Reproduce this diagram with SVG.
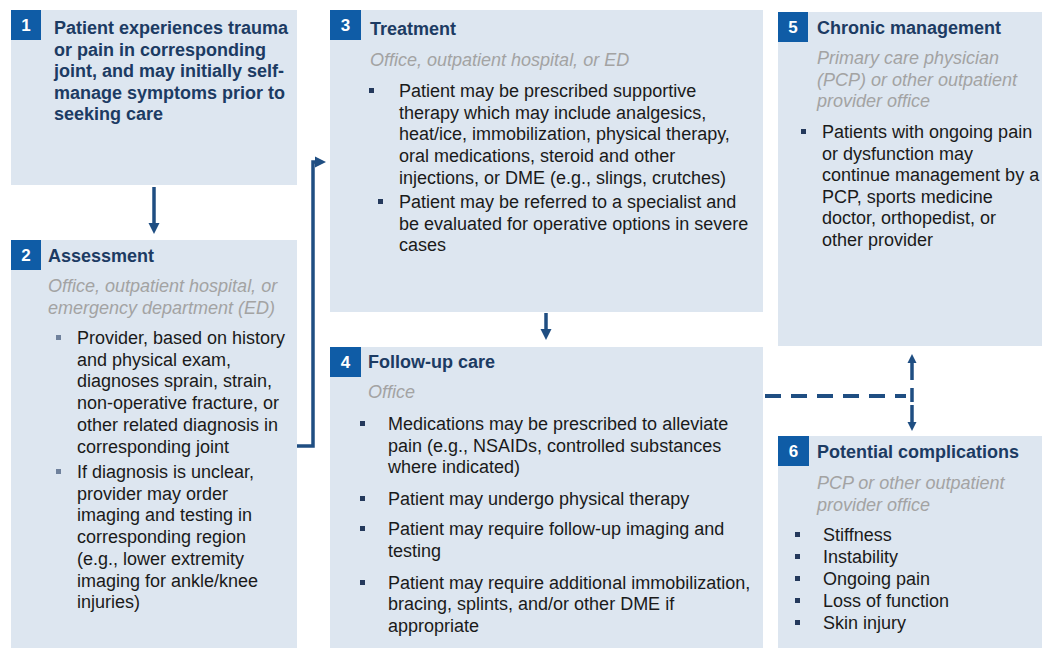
<svg xmlns="http://www.w3.org/2000/svg" width="1042" height="648" viewBox="0 0 1042 648">
<style>
.box{fill:#dde6f0}
.badge{fill:#0f5ca6}
.num{font-family:"Liberation Sans",Arial,sans-serif;font-weight:bold;font-size:17px;fill:#ffffff;text-anchor:middle}
.head{font-family:"Liberation Sans",Arial,sans-serif;font-weight:bold;font-size:18px;fill:#1c3b63}
.sub{font-family:"Liberation Sans",Arial,sans-serif;font-style:italic;font-size:18px;fill:#a3a3a3}
.body{font-family:"Liberation Sans",Arial,sans-serif;font-size:18px;fill:#1a1a1a}
.blt{fill:#24395c}
.blt2{fill:#6f819c}
.conn{fill:none;stroke:#1f4e82;stroke-width:3.5}
.dash{fill:none;stroke:#1f4e82;stroke-width:4;stroke-dasharray:16 10}
</style>
<defs>
<marker id="ah" markerWidth="14" markerHeight="14" refX="4" refY="6" orient="auto" markerUnits="userSpaceOnUse">
<path d="M0,0.5 L11,6 L0,11.5 Z" fill="#1f4e82"/>
</marker>
<marker id="ahs" markerWidth="12" markerHeight="12" refX="3" refY="5" orient="auto" markerUnits="userSpaceOnUse">
<path d="M0,0.5 L9,5 L0,9.5 Z" fill="#1f4e82"/>
</marker>
</defs>

<g id="connectors">
<path class="conn" d="M154,187 V227" marker-end="url(#ah)"/>
<path class="conn" d="M297,446 H313 V162 H319" marker-end="url(#ah)"/>
<path class="conn" d="M546,313 V333" marker-end="url(#ah)"/>
<path class="dash" d="M765,396 H906"/>
<path class="conn" d="M912,402 V388 M912,380 V360" marker-end="url(#ahs)"/>
<path class="conn" d="M912,405 V425" marker-end="url(#ahs)"/>
</g>

<g id="node1">
<rect class="box" x="11" y="10" width="286" height="175"/>
<rect class="badge" x="11" y="10" width="30" height="30"/>
<text class="num" x="26" y="31">1</text>
<text class="head" x="54" y="34"><tspan x="54">Patient experiences trauma</tspan><tspan x="54" dy="21.5">or pain in corresponding</tspan><tspan x="54" dy="21.5">joint, and may initially self-</tspan><tspan x="54" dy="21.5">manage symptoms prior to</tspan><tspan x="54" dy="21.5">seeking care</tspan></text>
</g>

<g id="node2">
<rect class="box" x="11" y="240" width="286" height="408"/>
<rect class="badge" x="11" y="240" width="30" height="30"/>
<text class="num" x="26" y="261">2</text>
<text class="head" x="48" y="262">Assessment</text>
<text class="sub" x="48" y="292"><tspan x="48">Office, outpatient hospital, or</tspan><tspan x="48" dy="21.7">emergency department (ED)</tspan></text>
<rect class="blt2" x="56" y="335" width="5" height="5"/>
<text class="body" x="77" y="344"><tspan x="77">Provider, based on history</tspan><tspan x="77" dy="21.7">and physical exam,</tspan><tspan x="77" dy="21.7">diagnoses sprain, strain,</tspan><tspan x="77" dy="21.7">non-operative fracture, or</tspan><tspan x="77" dy="21.7">other related diagnosis in</tspan><tspan x="77" dy="21.7">corresponding joint</tspan></text>
<rect class="blt2" x="56" y="469" width="5" height="5"/>
<text class="body" x="77" y="478"><tspan x="77">If diagnosis is unclear,</tspan><tspan x="77" dy="21.7">provider may order</tspan><tspan x="77" dy="21.7">imaging and testing in</tspan><tspan x="77" dy="21.7">corresponding region</tspan><tspan x="77" dy="21.7">(e.g., lower extremity</tspan><tspan x="77" dy="21.7">imaging for ankle/knee</tspan><tspan x="77" dy="21.7">injuries)</tspan></text>
</g>

<g id="node3">
<rect class="box" x="330" y="10" width="433" height="302"/>
<rect class="badge" x="330" y="10" width="31" height="30"/>
<text class="num" x="345.5" y="31">3</text>
<text class="head" x="370" y="35">Treatment</text>
<text class="sub" x="370" y="66">Office, outpatient hospital, or ED</text>
<rect class="blt" x="369" y="88" width="5" height="5"/>
<text class="body" x="399" y="97"><tspan x="399">Patient may be prescribed supportive</tspan><tspan x="399" dy="21.7">therapy which may include analgesics,</tspan><tspan x="399" dy="21.7">heat/ice, immobilization, physical therapy,</tspan><tspan x="399" dy="21.7">oral medications, steroid and other</tspan><tspan x="399" dy="21.7">injections, or DME (e.g., slings, crutches)</tspan></text>
<rect class="blt" x="378" y="199" width="5" height="5"/>
<text class="body" x="399" y="208"><tspan x="399">Patient may be referred to a specialist and</tspan><tspan x="399" dy="21.7">be evaluated for operative options in severe</tspan><tspan x="399" dy="21.7">cases</tspan></text>
</g>

<g id="node4">
<rect class="box" x="330" y="347" width="433" height="301"/>
<rect class="badge" x="330" y="347" width="31" height="30"/>
<text class="num" x="345.5" y="368">4</text>
<text class="head" x="368" y="368">Follow-up care</text>
<text class="sub" x="368" y="398">Office</text>
<rect class="blt" x="360" y="421" width="5" height="5"/>
<text class="body" x="388" y="430"><tspan x="388">Medications may be prescribed to alleviate</tspan><tspan x="388" dy="21.7">pain (e.g., NSAIDs, controlled substances</tspan><tspan x="388" dy="21.7">where indicated)</tspan></text>
<rect class="blt" x="360" y="496" width="5" height="5"/>
<text class="body" x="388" y="505">Patient may undergo physical therapy</text>
<rect class="blt" x="360" y="526" width="5" height="5"/>
<text class="body" x="388" y="535"><tspan x="388">Patient may require follow-up imaging and</tspan><tspan x="388" dy="21.7">testing</tspan></text>
<rect class="blt" x="360" y="580" width="5" height="5"/>
<text class="body" x="388" y="589"><tspan x="388">Patient may require additional immobilization,</tspan><tspan x="388" dy="21.3">bracing, splints, and/or other DME if</tspan><tspan x="388" dy="21.3">appropriate</tspan></text>
</g>

<g id="node5">
<rect class="box" x="778" y="12" width="264" height="334"/>
<rect class="badge" x="778" y="12" width="30" height="30"/>
<text class="num" x="793" y="33">5</text>
<text class="head" x="817" y="34">Chronic management</text>
<text class="sub" x="817" y="64"><tspan x="817">Primary care physician</tspan><tspan x="817" dy="21.7">(PCP) or other outpatient</tspan><tspan x="817" dy="21.7">provider office</tspan></text>
<rect class="blt" x="801" y="129" width="5" height="5"/>
<text class="body" x="822" y="138"><tspan x="822">Patients with ongoing pain</tspan><tspan x="822" dy="21.6">or dysfunction may</tspan><tspan x="822" dy="21.6">continue management by a</tspan><tspan x="822" dy="21.6">PCP, sports medicine</tspan><tspan x="822" dy="21.6">doctor, orthopedist, or</tspan><tspan x="822" dy="21.6">other provider</tspan></text>
</g>

<g id="node6">
<rect class="box" x="778" y="436" width="264" height="212"/>
<rect class="badge" x="778" y="436" width="31" height="30"/>
<text class="num" x="793.5" y="457">6</text>
<text class="head" x="817" y="458">Potential complications</text>
<text class="sub" x="817" y="489"><tspan x="817">PCP or other outpatient</tspan><tspan x="817" dy="21.7">provider office</tspan></text>
<rect class="blt" x="795" y="532" width="5" height="5"/>
<text class="body" x="823" y="541">Stiffness</text>
<rect class="blt" x="795" y="554" width="5" height="5"/>
<text class="body" x="823" y="563">Instability</text>
<rect class="blt" x="795" y="576" width="5" height="5"/>
<text class="body" x="823" y="585">Ongoing pain</text>
<rect class="blt" x="795" y="598" width="5" height="5"/>
<text class="body" x="823" y="607">Loss of function</text>
<rect class="blt" x="795" y="620" width="5" height="5"/>
<text class="body" x="823" y="629">Skin injury</text>
</g>
</svg>
